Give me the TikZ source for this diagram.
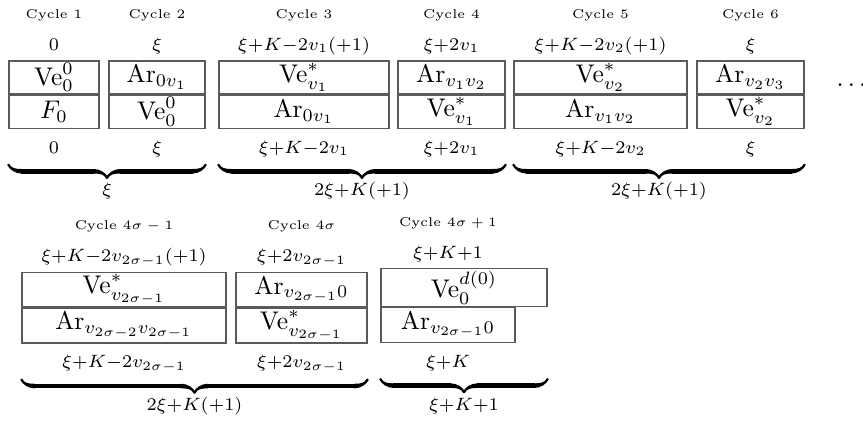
\documentclass[tikz,border=0pt]{standalone}
\usepackage{amsmath}
\usepackage{tikz}
\usetikzlibrary{positioning,calc,decorations.pathreplacing,calligraphy}
\usepackage{xcolor}
\definecolor{cellgray}{RGB}{90,90,90}
\tikzset{
  cellnode/.style={rectangle,draw=cellgray,line width=0.45pt,inner sep=0pt,minimum height=4.55mm},
  vallabel/.style={font=\scriptsize,anchor=base,inner sep=0pt},
  cyclelabel/.style={font=\tiny,anchor=base,inner sep=0pt},
  bracelabel/.style={font=\scriptsize,anchor=base,inner sep=0pt},
  cycbrace/.style={decorate,decoration={calligraphic brace,amplitude=1.8mm,mirror},line width=1.8pt}
}
\newcommand{\Ve}{\mathrm{Ve}}
\newcommand{\Ar}{\mathrm{Ar}}

\begin{document}
\begin{tikzpicture}
  \useasboundingbox (0,0) rectangle (11.887,-5.799);
  % first row: cycles 1--6
  \node[cellnode,minimum width=12.40mm] (c1a) at (0.744,-1.067) {$\Ve^0_0$};
  \node[cellnode,minimum width=12.40mm,anchor=north] (c1b) at (c1a.south) {$F_0$};
  \node[cellnode,minimum width=13.22mm] (c2a) at (2.163,-1.067) {$\Ar_{0v_1}$};
  \node[cellnode,minimum width=13.22mm,anchor=north] (c2b) at (c2a.south) {$\Ve^0_0$};
  \node[cellnode,minimum width=23.42mm] (c3a) at (4.187,-1.067) {$\Ve^*_{v_1}$};
  \node[cellnode,minimum width=23.42mm,anchor=north] (c3b) at (c3a.south) {$\Ar_{0v_1}$};
  \node[cellnode,minimum width=14.74mm] (c4a) at (6.219,-1.067) {$\Ar_{v_1v_2}$};
  \node[cellnode,minimum width=14.74mm,anchor=north] (c4b) at (c4a.south) {$\Ve^*_{v_1}$};
  \node[cellnode,minimum width=23.83mm] (c5a) at (8.271,-1.067) {$\Ve^*_{v_2}$};
  \node[cellnode,minimum width=23.83mm,anchor=north] (c5b) at (c5a.south) {$\Ar_{v_1v_2}$};
  \node[cellnode,minimum width=14.74mm] (c6a) at (10.337,-1.067) {$\Ar_{v_2v_3}$};
  \node[cellnode,minimum width=14.74mm,anchor=north] (c6b) at (c6a.south) {$\Ve^*_{v_2}$};
  \node[anchor=base west,inner sep=0pt] (dots) at (11.515,-1.259) {$\cdots$};

  \node[cyclelabel] (c1l) at ([yshift=5.79mm]c1a.north) {Cycle 1};
  \node[cyclelabel] (c2l) at ([yshift=5.79mm]c2a.north) {Cycle 2};
  \node[cyclelabel] (c3l) at ([yshift=5.79mm]c3a.north) {Cycle 3};
  \node[cyclelabel] (c4l) at ([yshift=5.79mm]c4a.north) {Cycle 4};
  \node[cyclelabel] (c5l) at ([yshift=5.79mm]c5a.north) {Cycle 5};
  \node[cyclelabel] (c6l) at ([yshift=5.79mm]c6a.north) {Cycle 6};

  \node[vallabel] (c1t) at ([yshift=1.38mm]c1a.north) {$0$};
  \node[vallabel] (c2t) at ([yshift=1.38mm]c2a.north) {$\xi$};
  \node[vallabel] (c3t) at ([yshift=1.38mm]c3a.north) {$\xi{+}K{-}2v_1({+}1)$};
  \node[vallabel] (c4t) at ([yshift=1.38mm]c4a.north) {$\xi{+}2v_1$};
  \node[vallabel] (c5t) at ([yshift=1.38mm]c5a.north) {$\xi{+}K{-}2v_2({+}1)$};
  \node[vallabel] (c6t) at ([yshift=1.38mm]c6a.north) {$\xi$};

  \node[vallabel] (c1d) at ([yshift=-3.4mm]c1b.south) {$0$};
  \node[vallabel] (c2d) at ([yshift=-3.4mm]c2b.south) {$\xi$};
  \node[vallabel] (c3d) at ([yshift=-3.4mm]c3b.south) {$\xi{+}K{-}2v_1$};
  \node[vallabel] (c4d) at ([yshift=-3.4mm]c4b.south) {$\xi{+}2v_1$};
  \node[vallabel] (c5d) at ([yshift=-3.4mm]c5b.south) {$\xi{+}K{-}2v_2$};
  \node[vallabel] (c6d) at ([yshift=-3.4mm]c6b.south) {$\xi$};

  \coordinate (b1l) at ([yshift=-4.96mm]c1b.south west);
  \coordinate (b1r) at ([yshift=-4.96mm]c2b.south east);
  \coordinate (b2l) at ([yshift=-4.96mm]c3b.south west);
  \coordinate (b2r) at ([yshift=-4.96mm]c4b.south east);
  \coordinate (b3l) at ([yshift=-4.96mm]c5b.south west);
  \coordinate (b3r) at ([yshift=-4.96mm]c6b.south east);
  \draw[cycbrace] (b1l) -- (b1r);
  \draw[cycbrace] (b2l) -- (b2r);
  \draw[cycbrace] (b3l) -- (b3r);
  \node[bracelabel] (b1t) at ([yshift=-4.27mm]$(b1l)!.5!(b1r)$) {$\xi$};
  \node[bracelabel] (b2t) at ([yshift=-4.27mm]$(b2l)!.5!(b2r)$) {$2\xi{+}K({+}1)$};
  \node[bracelabel] (b3t) at ([yshift=-4.27mm]$(b3l)!.5!(b3r)$) {$2\xi{+}K({+}1)$};

  % second row: cycles 4sigma-1 to 4sigma+1
  \node[cellnode,minimum width=28.10mm,minimum height=4.8mm] (c7a) at (1.708,-3.988) {$\Ve^*_{v_{2\sigma-1}}$};
  \node[cellnode,minimum width=28.10mm,minimum height=4.8mm,anchor=north] (c7b) at (c7a.south) {$\Ar_{v_{2\sigma-2}v_{2\sigma-1}}$};
  \node[cellnode,minimum width=18.04mm,minimum height=4.8mm] (c8a) at (4.153,-3.988) {$\Ar_{v_{2\sigma-1}0}$};
  \node[cellnode,minimum width=18.04mm,minimum height=4.8mm,anchor=north] (c8b) at (c8a.south) {$\Ve^*_{v_{2\sigma-1}}$};
  \node[cellnode,minimum width=22.87mm,minimum height=5.2mm] (c9a) at (6.391,-3.962) {$\Ve^{d(0)}_0$};
  \node[cellnode,minimum width=18.46mm,minimum height=4.8mm,anchor=north west] (c9b) at (c9a.south west) {$\Ar_{v_{2\sigma-1}0}$};

  \node[cyclelabel] (c7l) at ([yshift=5.79mm]c7a.north) {Cycle $4\sigma-1$};
  \node[cyclelabel] (c8l) at ([yshift=5.79mm]c8a.north) {Cycle $4\sigma$};
  \node[cyclelabel] (c9l) at ([yshift=5.79mm]c9a.north -| c9b.center) {Cycle $4\sigma+1$};

  \node[vallabel] (c7t) at ([yshift=1.38mm]c7a.north) {$\xi{+}K{-}2v_{2\sigma-1}({+}1)$};
  \node[vallabel] (c8t) at ([yshift=1.38mm]c8a.north) {$\xi{+}2v_{2\sigma-1}$};
  \node[vallabel] (c9t) at ([yshift=1.38mm]c9a.north -| c9b.center) {$\xi{+}K{+}1$};

  \node[vallabel] (c7d) at ([yshift=-3.3mm]c7b.south) {$\xi{+}K{-}2v_{2\sigma-1}$};
  \node[vallabel] (c8d) at ([yshift=-3.3mm]c8b.south) {$\xi{+}2v_{2\sigma-1}$};
  \node[vallabel] (c9d) at ([yshift=-3.3mm]c9b.south) {$\xi{+}K$};

  \coordinate (b4l) at ([yshift=-4.96mm]c7b.south west);
  \coordinate (b4r) at ([yshift=-4.96mm]c8b.south east);
  \coordinate (b5l) at ([yshift=-4.96mm]c9b.south west);
  \coordinate (b5r) at (c9a.east |- b5l);
  \draw[cycbrace] (b4l) -- (b4r);
  \draw[cycbrace] (b5l) -- (b5r);
  \node[bracelabel] (b4t) at ([yshift=-4.27mm]$(b4l)!.5!(b4r)$) {$2\xi{+}K({+}1)$};
  \node[bracelabel] (b5t) at ([yshift=-4.27mm]$(b5l)!.5!(b5r)$) {$\xi{+}K{+}1$};
\end{tikzpicture}
\end{document}
